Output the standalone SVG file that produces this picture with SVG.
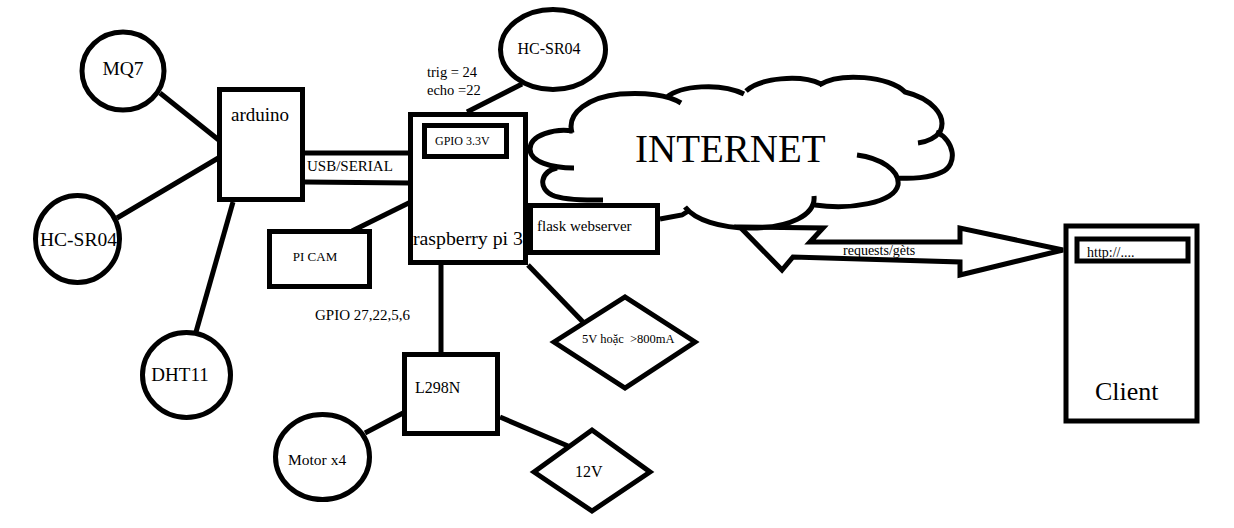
<svg xmlns="http://www.w3.org/2000/svg" width="1234" height="528" viewBox="0 0 1234 528">
<style>
.s{fill:none;stroke:#000;stroke-width:5;stroke-linejoin:miter;stroke-linecap:butt}
.n{fill:#fff;stroke:#000;stroke-width:5}
.t{font-family:"Liberation Serif","Times New Roman",serif;fill:#000}
</style>
<rect width="1234" height="528" fill="#fff"/>
<g id="connectors" class="s">
<line x1="160" y1="93" x2="220" y2="141"/>
<line x1="117" y1="218" x2="220" y2="157"/>
<line x1="233" y1="202" x2="196" y2="332"/>
<line x1="305" y1="153" x2="410" y2="153"/>
<line x1="305" y1="182" x2="410" y2="183"/>
<line x1="352" y1="231" x2="435" y2="190"/>
<line x1="522" y1="84" x2="467" y2="112"/>
<line x1="441" y1="265" x2="441" y2="354"/>
<line x1="528" y1="265" x2="583" y2="322"/>
<line x1="365" y1="433" x2="405" y2="412"/>
<line x1="500" y1="417" x2="568" y2="446"/>
<polyline points="660,219 682,215 690,210"/>
<polygon points="740,227 823,228 810,242 960,242 960,228 1063,250 960,275 960,262 793,257 782,270"/>
<text class="t" x="843" y="255" font-size="14" stroke="none">requests/gèts</text>
</g>
<g id="mq7"><ellipse class="n" cx="123" cy="71" rx="41" ry="39"/><text class="t" x="123" y="75" font-size="19.5" text-anchor="middle">MQ7</text></g>
<g id="hcsr04-left"><ellipse class="n" cx="77.5" cy="239" rx="42" ry="43.5"/><text class="t" x="78.5" y="246" font-size="19.5" text-anchor="middle">HC-SR04</text></g>
<g id="dht11"><ellipse class="n" cx="186.5" cy="375" rx="44" ry="42.5"/><text class="t" x="180" y="381" font-size="19" text-anchor="middle">DHT11</text></g>
<g id="arduino"><rect class="n" x="219.5" y="89.5" width="83" height="110"/><text class="t" x="260" y="121" font-size="19" text-anchor="middle">arduino</text></g>
<text class="t" x="307" y="171" font-size="15">USB/SERIAL</text>
<g id="picam"><rect class="n" x="269.5" y="231.5" width="100" height="55"/><text class="t" x="315" y="261" font-size="13" text-anchor="middle">PI CAM</text></g>
<text class="t" x="315" y="320" font-size="15">GPIO 27,22,5,6</text>
<g id="raspberrypi"><rect class="n" x="410.5" y="114.5" width="115" height="148"/><rect class="s" x="424.5" y="125.5" width="82" height="31"/><text class="t" x="435" y="145" font-size="12">GPIO 3.3V</text><text class="t" x="413" y="245" font-size="19.8">raspberry pi 3</text></g>
<g id="hcsr04-top"><ellipse class="n" cx="553" cy="49.5" rx="52.5" ry="40"/><text class="t" x="549" y="54" font-size="16" text-anchor="middle">HC-SR04</text></g>
<text class="t" x="427" y="77" font-size="14.5">trig = 24</text>
<text class="t" x="427" y="95" font-size="14.5">echo =22</text>
<g id="internet">
<path class="s" d="M573,131 C555,128 530,135 530,149 C530,162 552,168 574,168
M557,168 C540,172 538,188 552,195 C565,201 590,200 603,200
M572,133 C566,112 590,97 620,94 C645,92 668,95 681,103
M667,97 C680,86 720,82 744,94
M746,91 C760,78 800,74 821,84
M819,85 C840,72 890,76 905,92 C930,98 948,115 940,132 C935,138 926,142 918,143
M936,132 C955,140 958,165 942,172 C930,178 910,179 898,178
M857,155 C880,158 900,170 898,185 C894,203 850,210 815,205
M814,196 C816,215 790,228 750,228 C720,228 695,220 685,207"/>
<text class="t" x="635" y="162" font-size="39">INTERNET</text>
</g>
<g id="flask"><rect class="n" x="530.5" y="205.5" width="127" height="47"/><text class="t" x="537" y="231" font-size="15">flask webserver</text></g>
<g id="power5v"><polygon class="n" points="554,342 625,297 695,342 625,388"/><text class="t" x="582" y="343" font-size="12.5" xml:space="preserve">5V hoặc  &gt;800mA</text></g>
<g id="l298n"><rect class="n" x="404.5" y="354.5" width="93" height="79"/><text class="t" x="415" y="393" font-size="16">L298N</text></g>
<g id="motor"><ellipse class="n" cx="322.5" cy="457" rx="47" ry="42.5"/><text class="t" x="288" y="465" font-size="15.5">Motor x4</text></g>
<g id="power12v"><polygon class="n" points="534,472 592,430 650,472 592,511"/><text class="t" x="575" y="477" font-size="16">12V</text></g>
<g id="client"><rect class="n" x="1066" y="226" width="131" height="195"/><rect class="s" x="1077" y="239" width="111" height="22"/><text class="t" x="1087" y="257" font-size="14">http://....</text><text class="t" x="1095" y="400" font-size="26">Client</text></g>
</svg>
